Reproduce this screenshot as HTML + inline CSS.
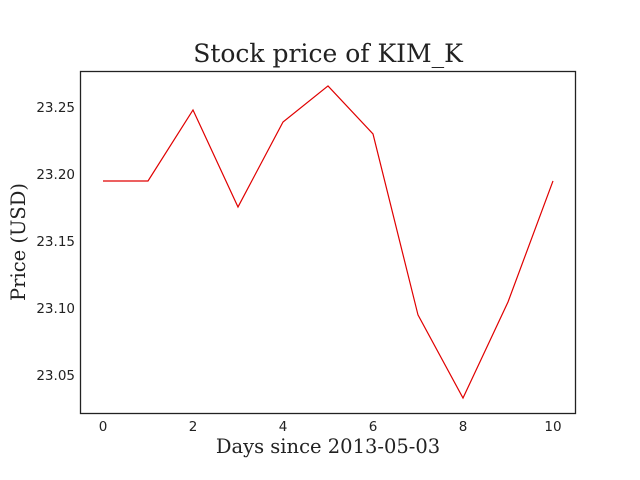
<!DOCTYPE html>
<html><head><meta charset="utf-8"><style>
html,body{margin:0;padding:0;background:#fff;width:640px;height:480px;overflow:hidden}
</style></head><body>
<svg width="640" height="480" id="chart" xmlns="http://www.w3.org/2000/svg">
<rect width="640" height="480" fill="#fff"/>
<text x="328" y="62" text-anchor="middle" font-family="DejaVu Serif, serif" font-size="25" fill="#222">Stock price of KIM_K</text>
<text x="328" y="453" text-anchor="middle" font-family="DejaVu Serif, serif" font-size="19.5" fill="#222">Days since 2013-05-03</text>
<text x="25" y="242" text-anchor="middle" font-family="DejaVu Serif, serif" font-size="19.5" fill="#222" transform="rotate(-90 25 242)">Price (USD)</text>
<g id="ticks"></g>
<polyline id="line" fill="none" stroke="#e00000" stroke-width="1.2"/>
<rect x="80.5" y="71.5" width="495" height="342" fill="none" stroke="#222" stroke-width="1.3"/>
</svg>
<script>
const days = [0,1,2,3,4,5,6,7,8,9,10];
const prices = [23.1948,23.1948,23.2478,23.1754,23.2388,23.2657,23.2299,23.0948,23.0328,23.1045,23.1948];
const xTicks = [0,2,4,6,8,10];
const yTicks = [23.05,23.10,23.15,23.20,23.25];
const yTickLabels = ["23.05","23.10","23.15","23.20","23.25"];
function xs(d){return 103 + d*45;}
function ys(v){return 107 + (23.25 - v)*1340;}
const ns="http://www.w3.org/2000/svg";
const g=document.getElementById('ticks');
xTicks.forEach(t=>{
  const tx=document.createElementNS(ns,'text');
  tx.setAttribute('x',xs(t));tx.setAttribute('y',431);
  tx.setAttribute('text-anchor','middle');tx.setAttribute('font-family','DejaVu Sans, sans-serif');
  tx.setAttribute('font-size','13.5');tx.setAttribute('fill','#222');
  
  
  tx.textContent=t;g.appendChild(tx);
});
yTicks.forEach((t,i)=>{
  const tx=document.createElementNS(ns,'text');
  tx.setAttribute('x',75);tx.setAttribute('y',ys(t)+5);
  tx.setAttribute('text-anchor','end');tx.setAttribute('font-family','DejaVu Sans, sans-serif');
  tx.setAttribute('font-size','13.5');tx.setAttribute('fill','#222');
  
  
  tx.textContent=yTickLabels[i];g.appendChild(tx);
});
document.getElementById('line').setAttribute('points',days.map((d,i)=>xs(d)+','+ys(prices[i])).join(' '));
</script>
</body></html>
